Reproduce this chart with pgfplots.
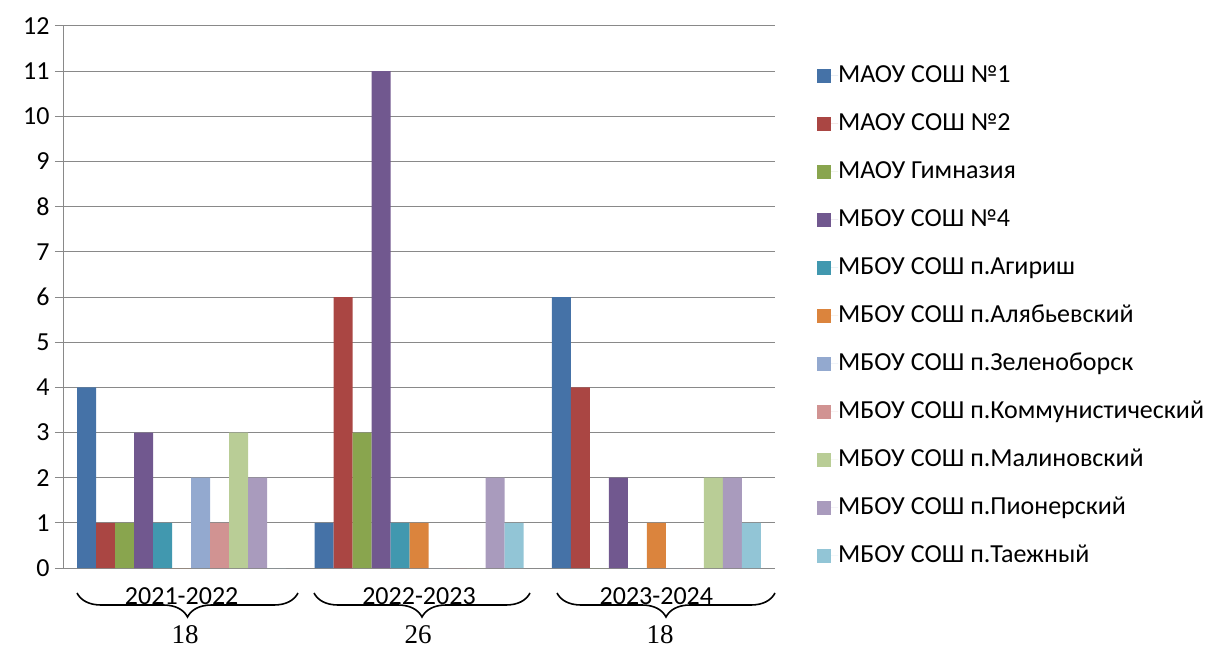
\documentclass[border=0pt]{standalone}
\usepackage{fontspec}
\setmainfont{Carlito}
\newfontfamily\serif{Liberation Serif}
\usepackage{pgfplots}
\pgfplotsset{compat=1.18}
\usetikzlibrary{decorations.pathreplacing}
\definecolor{c1}{HTML}{4572A7}
\definecolor{c2}{HTML}{AA4643}
\definecolor{c3}{HTML}{89A54E}
\definecolor{c4}{HTML}{71588F}
\definecolor{c5}{HTML}{4198AF}
\definecolor{c6}{HTML}{DB843D}
\definecolor{c7}{HTML}{93A9CF}
\definecolor{c8}{HTML}{D19392}
\definecolor{c9}{HTML}{B9CD96}
\definecolor{c10}{HTML}{A99BBD}
\definecolor{c11}{HTML}{92C5D6}
\definecolor{gridc}{HTML}{898989}
\begin{document}
\begin{tikzpicture}
\useasboundingbox (0,0) rectangle (1216pt,649pt);
\begin{axis}[
  at={(63pt,81pt)}, anchor=south west,
  scale only axis, width=712pt, height=542pt,
  xmin=-0.5, xmax=2.5, ymin=0, ymax=12,
  ybar=0pt, bar width=19pt,
  axis lines*=left,
  axis line style={gridc, line width=1pt},
  ymajorgrids, grid style={gridc, line width=1pt},
  ytick={0,1,...,12},
  xtick={0,1,2},
  xticklabels={2021-2022,2022-2023,2023-2024},
  major x tick style={draw=none},
  extra x ticks={-0.5,0.5,1.5,2.5},
  extra x tick labels={},
  extra x tick style={major tick length=9pt, tick align=outside, tick style={gridc, line width=1pt}, grid=none},
  y tick style={gridc, line width=1pt},
  tick align=outside, major tick length=8pt,
  /pgf/number format/assume math mode=true,
  tick label style={font=\fontsize{26}{30}\selectfont},
  xticklabel style={yshift=-8pt},
  yticklabel style={xshift=-2pt},
  legend style={at={(axis description cs:1,1)}, anchor=north west, xshift=39pt, yshift=-36pt,
    draw=none, fill=none, font=\fontsize{26}{30}\selectfont, row sep=25pt,
    nodes={inner sep=0pt, text height=18pt, text depth=5pt},
    /tikz/every even column/.append style={column sep=0pt}},
  legend cell align=left,
  legend image code/.code={\fill[#1] (0pt,-7pt) rectangle (14pt,7pt); \path (0pt,0pt) -- (21pt,0pt);},
  every axis plot/.append style={draw=none},
]
\addplot[fill=c1] coordinates {(0,4) (1,1) (2,6)};
\addplot[fill=c2] coordinates {(0,1) (1,6) (2,4)};
\addplot[fill=c3] coordinates {(0,1) (1,3) (2,0)};
\addplot[fill=c4] coordinates {(0,3) (1,11) (2,2)};
\addplot[fill=c5] coordinates {(0,1) (1,1) (2,0)};
\addplot[fill=c6] coordinates {(0,0) (1,1) (2,1)};
\addplot[fill=c7] coordinates {(0,2) (1,0) (2,0)};
\addplot[fill=c8] coordinates {(0,1) (1,0) (2,0)};
\addplot[fill=c9] coordinates {(0,3) (1,0) (2,2)};
\addplot[fill=c10] coordinates {(0,2) (1,2) (2,2)};
\addplot[fill=c11] coordinates {(0,0) (1,1) (2,1)};
\legend{МАОУ СОШ №1,МАОУ СОШ №2,МАОУ Гимназия,МБОУ СОШ №4,МБОУ СОШ п.Агириш,МБОУ СОШ п.Алябьевский,МБОУ СОШ п.Зеленоборск,МБОУ СОШ п.Коммунистический,МБОУ СОШ п.Малиновский,МБОУ СОШ п.Пионерский,МБОУ СОШ п.Таежный}
\end{axis}
\draw[line width=1.6pt, decorate, decoration={brace, mirror, amplitude=24pt}] (77pt,56pt) -- (298pt,56pt);
\draw[line width=1.6pt, decorate, decoration={brace, mirror, amplitude=24pt}] (314pt,56pt) -- (530pt,56pt);
\draw[line width=1.6pt, decorate, decoration={brace, mirror, amplitude=24pt}] (557pt,56pt) -- (775pt,56pt);
\node[font=\serif\fontsize{27}{30}\selectfont] at (185pt,14pt) {18};
\node[font=\serif\fontsize{27}{30}\selectfont] at (418pt,14pt) {26};
\node[font=\serif\fontsize{27}{30}\selectfont] at (660pt,14pt) {18};
\end{tikzpicture}
\end{document}
